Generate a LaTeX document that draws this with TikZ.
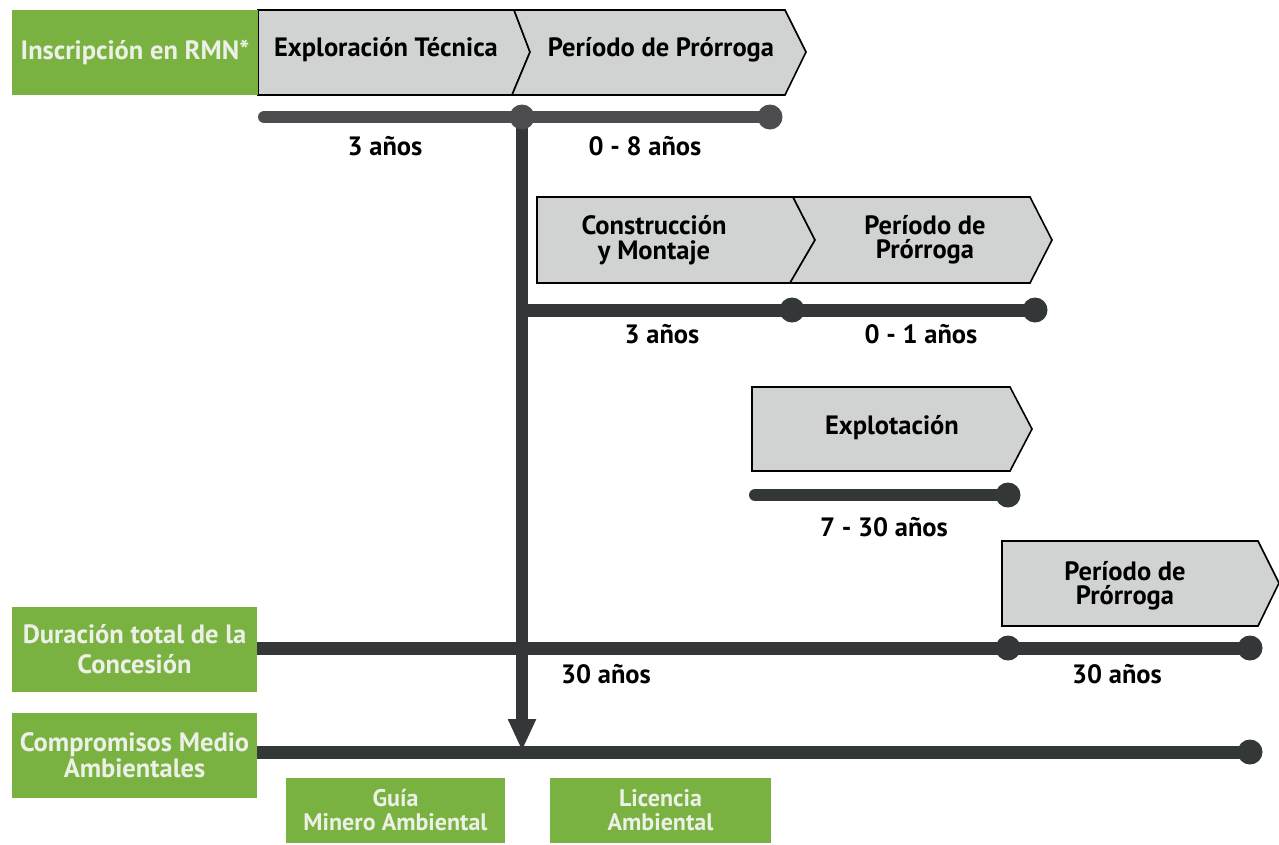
\documentclass[tikz,border=0pt]{standalone}
\usepackage{fontspec}
\setmainfont{PT Sans}
\usetikzlibrary{arrows.meta}

\definecolor{verde}{RGB}{122,178,65}
\definecolor{grisclaro}{RGB}{209,211,210}
\definecolor{grismedio}{RGB}{77,77,79}
\definecolor{oscuro}{RGB}{51,55,56}
\definecolor{blanco}{RGB}{236,240,230}

\tikzset{
  etapa/.style={draw=black, line width=1.6pt, fill=grisclaro, line join=miter},
  titulo/.style={font=\bfseries\fontsize{26.5}{24.5}\selectfont, align=center, text=black},
  dur/.style={font=\bfseries\fontsize{26.5}{25}\selectfont, text=black},
  verdebox/.style={fill=verde, text=blanco, align=center, inner sep=0pt,
    font=\bfseries\fontsize{26.5}{26}\selectfont},
  verdechico/.style={verdebox, font=\bfseries\fontsize{24}{24}\selectfont},
  linea/.style={line width=13pt, draw=oscuro},
  punto/.style={circle, fill=oscuro, inner sep=0pt, minimum size=25pt}
}

\begin{document}
\begin{tikzpicture}[x=1pt,y=-1pt]
  \useasboundingbox (0,0) rectangle (1279,844);

  % etapas (flechas grises)
  \draw[etapa] (258,10) -- (514,10) -- (530,52) -- (512,95) -- (258,95) -- cycle;
  \draw[etapa] (514,10) -- (785,10) -- (806,52) -- (785,95) -- (512,95) -- (530,52) -- cycle;
  \draw[etapa] (537,197) -- (793,197) -- (815,240) -- (790,283) -- (537,283) -- cycle;
  \draw[etapa] (793,197) -- (1030,197) -- (1052,240) -- (1030,283) -- (790,283) -- (815,240) -- cycle;
  \draw[etapa] (752,387) -- (1010,387) -- (1032,429) -- (1010,471) -- (752,471) -- cycle;
  \draw[etapa] (1002,541) -- (1258,541) -- (1279,583) -- (1258,626) -- (1002,626) -- cycle;

  \node[titulo] (exploracion) at (386,50) {Exploración Técnica};
  \node[titulo] (prorroga1) at (661,50) {Período de Prórroga};
  \node[titulo] (construccion) at (654,240) {Construcción\\y Montaje};
  \node[titulo] (prorroga2) at (925,240) {Período de\\Prórroga};
  \node[titulo] (explotacion) at (892,428) {Explotación};
  \node[titulo] (prorroga3) at (1125,586) {Período de\\Prórroga};

  % cajas verdes
  \node[verdebox, minimum width=246pt, minimum height=85pt] (rmn) at (135,52.5) {Inscripción en RMN*};
  \node[verdebox, minimum width=245pt, minimum height=85pt,
    font=\bfseries\fontsize{26.5}{30}\selectfont] (duracion) at (134.5,649.5) {Duración total de la\\Concesión};
  \node[verdebox, minimum width=245pt, minimum height=85pt] (compromisos) at (134.5,755.5) {Compromisos Medio\\Ambientales};
  \node[verdechico, minimum width=219pt, minimum height=65pt] (guia) at (395.5,810.5) {Guía\\Minero Ambiental};
  \node[verdechico, minimum width=221pt, minimum height=65pt] (licencia) at (660.5,810.5) {Licencia\\Ambiental};

  % puntos de las lineas de tiempo
  \coordinate (t1a) at (264,117);
  \coordinate (t1b) at (522,117);
  \coordinate (t1c) at (770,117);
  \coordinate (t2a) at (522,310);
  \coordinate (t2b) at (792,310);
  \coordinate (t2c) at (1035,310);
  \coordinate (t3a) at (755,495);
  \coordinate (t3b) at (1008,495);
  \coordinate (t4a) at (257,648);
  \coordinate (t4b) at (1008,648);
  \coordinate (t4c) at (1250,648);
  \coordinate (t5a) at (257,752);
  \coordinate (t5c) at (1250,752);
  \coordinate (flecha) at (522,751);

  % lineas de tiempo
  \draw[linea, draw=grismedio, line width=12pt, line cap=round] (t1a) -- (t1c);
  \draw[linea] (t2a) -- (t2c);
  \draw[linea, line width=12pt, line cap=round] (t3a) -- (t3b);
  \draw[linea] (t4a) -- (t4c);
  \draw[linea] (t5a) -- (t5c);

  % linea vertical con flecha
  \draw[linea, line width=12pt, -{Triangle[width=26pt,length=32pt]}] (t1b) -- (flecha);

  \node[punto, fill=grismedio] (p1b) at (t1b) {};
  \node[punto, fill=grismedio] (p1c) at (t1c) {};
  \node[punto] (p2b) at (t2b) {};
  \node[punto] (p2c) at (t2c) {};
  \node[punto] (p3b) at (t3b) {};
  \node[punto] (p4b) at (t4b) {};
  \node[punto] (p4c) at (t4c) {};
  \node[punto] (p5c) at (t5c) {};

  % duraciones
  \node[dur] (d1) at (385,146) {3 años};
  \node[dur] (d2) at (645,146) {0 - 8 años};
  \node[dur] (d3) at (662,334) {3 años};
  \node[dur] (d4) at (921,334) {0 - 1 años};
  \node[dur] (d5) at (884,527) {7 - 30 años};
  \node[dur] (d6) at (606,674) {30 años};
  \node[dur] (d7) at (1117,674) {30 años};
\end{tikzpicture}
\end{document}
